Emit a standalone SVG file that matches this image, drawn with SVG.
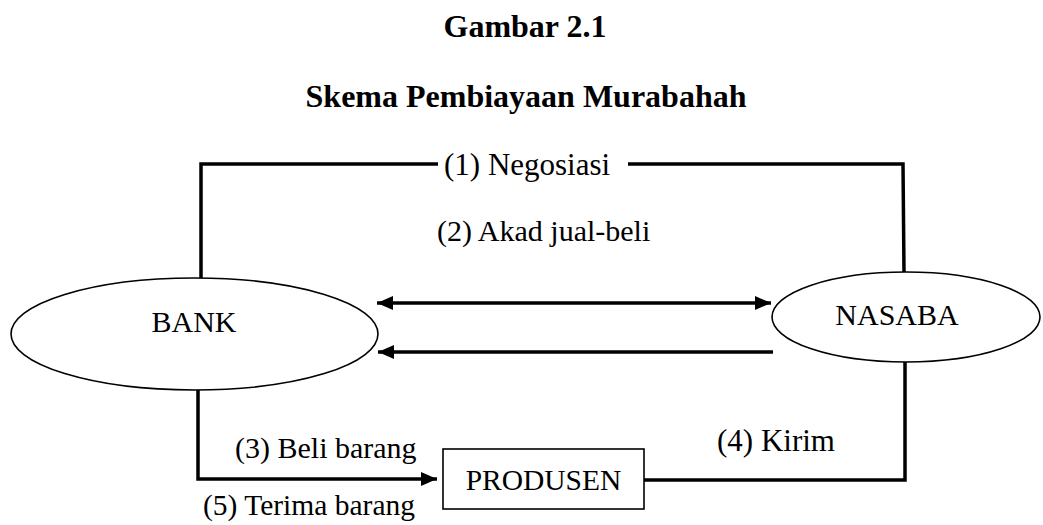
<svg xmlns="http://www.w3.org/2000/svg" width="1043" height="525" viewBox="0 0 1043 525">
<style>
text{font-family:"Liberation Serif","Times New Roman",serif;font-size:30px;fill:#000}
.title{font-weight:bold;font-size:32px;text-anchor:middle}
.mid{text-anchor:middle}
.node{fill:#fff;stroke:#000;stroke-width:1.6}
.conn{fill:none;stroke:#000;stroke-width:3.5}
</style>
<defs>
<marker id="ah" markerWidth="16" markerHeight="14" refX="16" refY="7" orient="auto" markerUnits="userSpaceOnUse">
<path d="M0,0 L16,7 L0,14 Z" fill="#000"/>
</marker>
<marker id="ahs" markerWidth="16" markerHeight="14" refX="16" refY="7" orient="auto-start-reverse" markerUnits="userSpaceOnUse">
<path d="M0,0 L16,7 L0,14 Z" fill="#000"/>
</marker>
</defs>
<g id="title">
<text class="title" x="525" y="37">Gambar 2.1</text>
<text class="title" x="526" y="107">Skema Pembiayaan Murabahah</text>
</g>
<g id="connectors">
<polyline class="conn" points="201,278 201,164 438,164"/>
<polyline class="conn" points="628,164 903,164 904,272"/>
<line class="conn" x1="377" y1="303" x2="771" y2="303" marker-start="url(#ahs)" marker-end="url(#ah)"/>
<line class="conn" x1="773" y1="352" x2="378" y2="352" marker-end="url(#ah)"/>
<polyline class="conn" points="198,390 198,479 437,479" marker-end="url(#ah)"/>
<polyline class="conn" points="905,362 905,480 644,480"/>
</g>
<g id="labels">
<text x="444" y="175" style="font-size:31px">(1) Negosiasi</text>
<text x="437" y="241">(2) Akad jual-beli</text>
<text x="235" y="458">(3) Beli barang</text>
<text x="717" y="451" style="font-size:31px">(4) Kirim</text>
<text x="203" y="515" style="font-size:29.5px">(5) Terima barang</text>
</g>
<g id="bank">
<ellipse class="node" cx="194.5" cy="334" rx="183.5" ry="56"/>
<text class="mid" x="194" y="332">BANK</text>
</g>
<g id="nasaba">
<ellipse class="node" cx="906" cy="317" rx="134" ry="45"/>
<text class="mid" x="897" y="325">NASABA</text>
</g>
<g id="produsen">
<rect class="node" x="443" y="449" width="201" height="60"/>
<text class="mid" x="543.5" y="490" style="font-size:29.5px">PRODUSEN</text>
</g>
</svg>
